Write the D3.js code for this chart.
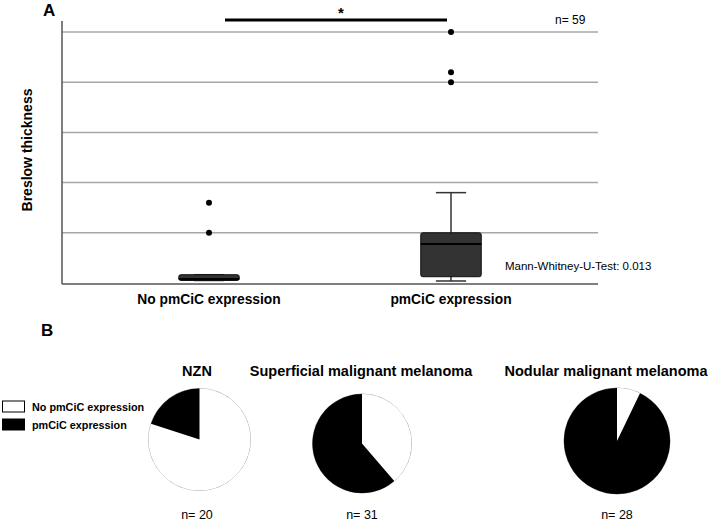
<!DOCTYPE html>
<meta charset="utf-8">
<style>
  body { margin: 0; background: #fff; }
  svg text { font-family: "Liberation Sans", Arial, sans-serif; fill: #000; }
  .grid line { stroke: #a6a6a6; stroke-width: 1.5; }
  .bold { font-weight: bold; }
</style>
<div class="chart"></div>
<script src="https://cdn.jsdelivr.net/npm/d3@7"></script>
<script>
  // panel A: box plot data (Breslow thickness, mm)
  var groups = ["No pmCiC expression", "pmCiC expression"];
  var q1 = [0.1, 0.25];
  var medians = [0.16, 1.55];
  var q3 = [0.33, 2.0];
  var whiskLo = [0.1, 0.08];
  var whiskHi = [0.33, 3.6];
  var outliers = [[2.0, 3.2], [8.0, 8.4, 10.0]];
  var gridTicks = [2, 4, 6, 8, 10];

  // panel B: pie data
  var pieTitles = ["NZN", "Superficial malignant melanoma", "Nodular malignant melanoma"];
  var noExpression = [16, 12, 2];
  var withExpression = [4, 19, 26];
  var legendLabels = ["No pmCiC expression", "pmCiC expression"];

  var width = 709, height = 522;

  var svg = d3.select(".chart").append("svg")
      .attr("width", width)
      .attr("height", height);

  // ---------- A ----------
  var x = d3.scaleBand()
      .domain(groups)
      .range([88, 572])
      .paddingInner(0);

  var y = d3.scaleLinear()
      .domain([0, 10])
      .range([283, 32]);

  svg.append("text").attr("class", "bold")
      .attr("x", 43).attr("y", 16)
      .style("font-size", "17px")
      .text("A");

  svg.append("g").attr("class", "grid")
      .selectAll("line")
      .data(gridTicks)
      .enter().append("line")
      .attr("x1", 62).attr("x2", 598)
      .attr("y1", (d) => y(d)).attr("y2", (d) => y(d));

  // axes
  svg.append("line")
      .attr("x1", 62).attr("x2", 62)
      .attr("y1", 21).attr("y2", y(0) + 1)
      .attr("stroke", "#555").attr("stroke-width", 1.5);
  svg.append("line")
      .attr("x1", 62).attr("x2", 598)
      .attr("y1", y(0) + 1).attr("y2", y(0) + 1)
      .attr("stroke", "#555").attr("stroke-width", 1.5);

  svg.append("text").attr("class", "bold")
      .attr("transform", "translate(32,150) rotate(-90)")
      .attr("text-anchor", "middle")
      .style("font-size", "14px")
      .text("Breslow thickness");

  var boxW = x.bandwidth() * 0.25;
  var box = svg.selectAll(".box")
      .data(groups)
      .enter().append("g")
      .attr("class", "box");

  // whiskers
  box.append("line")
      .attr("x1", (d) => x(d) + x.bandwidth() / 2)
      .attr("x2", (d) => x(d) + x.bandwidth() / 2)
      .attr("y1", (d, i) => y(whiskLo[i]))
      .attr("y2", (d, i) => y(whiskHi[i]))
      .attr("stroke", "#333").attr("stroke-width", 1.5);
  [whiskLo, whiskHi].forEach(function(arr) {
    box.append("line")
        .attr("x1", (d) => x(d) + x.bandwidth() / 2 - boxW / 4)
        .attr("x2", (d) => x(d) + x.bandwidth() / 2 + boxW / 4)
        .attr("y1", (d, i) => y(arr[i]))
        .attr("y2", (d, i) => y(arr[i]))
        .attr("stroke", "#333").attr("stroke-width", 1.5);
  });

  box.append("rect")
      .attr("x", (d) => x(d) + x.bandwidth() / 2 - boxW / 2)
      .attr("width", boxW)
      .attr("y", (d, i) => y(q3[i]))
      .attr("height", (d, i) => y(q1[i]) - y(q3[i]))
      .attr("rx", 2)
      .attr("fill", "#333")
      .attr("stroke", "#111").attr("stroke-width", 1);

  box.append("line")
      .attr("x1", (d) => x(d) + x.bandwidth() / 2 - boxW / 2)
      .attr("x2", (d) => x(d) + x.bandwidth() / 2 + boxW / 2)
      .attr("y1", (d, i) => y(medians[i]))
      .attr("y2", (d, i) => y(medians[i]))
      .attr("stroke", "#000").attr("stroke-width", 2);

  box.selectAll("circle")
      .data((d, i) => outliers[i].map((v) => ({g: d, v: v})))
      .enter().append("circle")
      .attr("cx", (d) => x(d.g) + x.bandwidth() / 2)
      .attr("cy", (d) => y(d.v))
      .attr("r", 3)
      .attr("fill", "#000");

  svg.selectAll(".xlab")
      .data(groups)
      .enter().append("text")
      .attr("class", "bold")
      .attr("x", (d) => x(d) + x.bandwidth() / 2)
      .attr("y", 304)
      .attr("text-anchor", "middle")
      .style("font-size", "13.8px")
      .text((d) => d);

  // significance bar
  svg.append("line")
      .attr("x1", 225).attr("x2", 447)
      .attr("y1", 20).attr("y2", 20)
      .attr("stroke", "#000").attr("stroke-width", 3);
  svg.append("text").attr("class", "bold")
      .attr("x", 341).attr("y", 18)
      .attr("text-anchor", "middle")
      .style("font-size", "15px")
      .text("*");

  svg.append("text")
      .attr("x", 555).attr("y", 24)
      .style("font-size", "12px")
      .text("n= " + d3.sum(noExpression.slice(1).concat(withExpression.slice(1))));

  svg.append("text")
      .attr("x", 505).attr("y", 270)
      .style("font-size", "11.5px")
      .text("Mann-Whitney-U-Test: 0.013");

  // ---------- B ----------
  svg.append("text").attr("class", "bold")
      .attr("x", 41).attr("y", 336)
      .style("font-size", "17px")
      .text("B");

  // legend
  var legend = svg.selectAll(".legend")
      .data(legendLabels)
      .enter().append("g")
      .attr("class", "legend")
      .attr("transform", (d, i) => "translate(0," + (i * 18) + ")");
  legend.append("rect")
      .attr("x", 2.5).attr("y", 401)
      .attr("width", 22).attr("height", 11)
      .attr("fill", (d, i) => i === 0 ? "#fff" : "#000")
      .attr("stroke", "#000").attr("stroke-width", 1);
  legend.append("text")
      .attr("class", "bold")
      .attr("x", 32).attr("y", 411)
      .style("font-size", "10.8px")
      .text((d) => d);

  var pieCx = [199.5, 362, 617];
  var pieCy = [439.5, 443.5, 441];
  var pieR = [51, 49.5, 53];

  var pie = d3.pie().sort(null).value((d) => d);
  var colors = ["#fff", "#000"];

  pieTitles.forEach(function(title, i) {
    var g = svg.append("g")
        .attr("transform", "translate(" + pieCx[i] + "," + pieCy[i] + ")");
    var arc = d3.arc().innerRadius(0).outerRadius(pieR[i]);
    g.append("circle")
        .attr("r", pieR[i])
        .attr("fill", "#fff")
        .attr("stroke", "#999").attr("stroke-width", 1);
    g.selectAll("path")
        .data(pie([noExpression[i], withExpression[i]]))
        .enter().append("path")
        .attr("d", arc)
        .attr("fill", (d, j) => colors[j])
        .attr("stroke", "none");

    svg.append("text").attr("class", "bold")
        .attr("x", [197, 361, 606][i]).attr("y", 376)
        .attr("text-anchor", "middle")
        .style("font-size", "14.5px")
        .text(title);

    svg.append("text")
        .attr("x", [197, 362, 617][i]).attr("y", 519)
        .attr("text-anchor", "middle")
        .style("font-size", "12.5px")
        .text("n= " + (noExpression[i] + withExpression[i]));
  });
</script>
